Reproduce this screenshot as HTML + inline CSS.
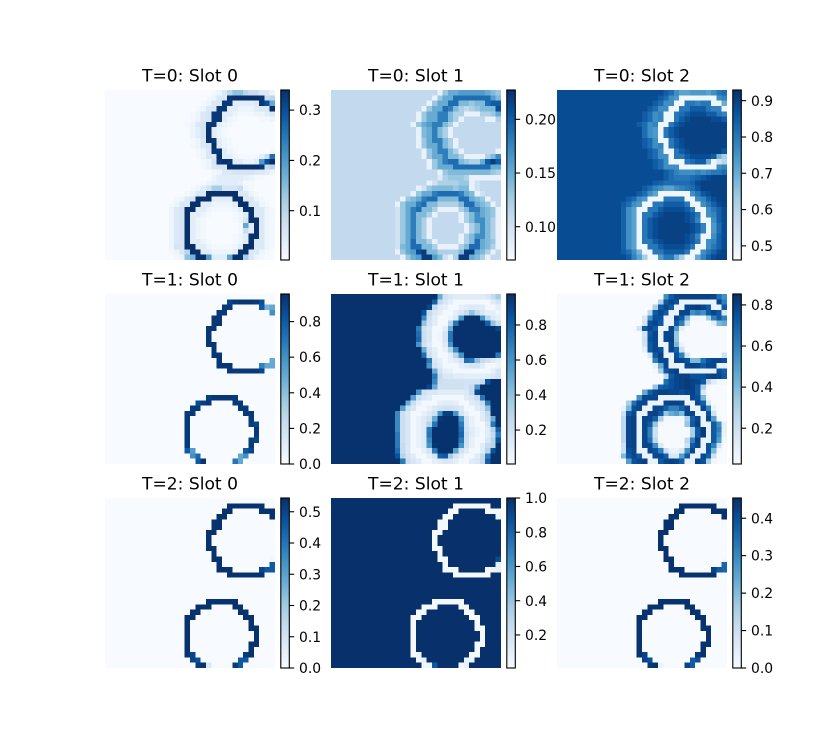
<!DOCTYPE html>
<html>
<head>
<meta charset="utf-8">
<title>Slot attention heatmaps</title>
<style>
html,body{margin:0;padding:0;background:#fff;}
svg{display:block;}
text{font-family:"DejaVu Sans","Liberation Sans",sans-serif;fill:#000;}
</style>
</head>
<body>
<svg id="figure" xmlns="http://www.w3.org/2000/svg" width="825" height="750" viewBox="0 0 825 750">
<rect x="0" y="0" width="825" height="750" fill="#fff"/>
</svg>
<script>
/* Values are in hundredths. Each row lists columns 12..31; columns 0..11 carry the panel background. */
const panelTitles = ["T=0: Slot 0","T=0: Slot 1","T=0: Slot 2","T=1: Slot 0","T=1: Slot 1","T=1: Slot 2","T=2: Slot 0","T=2: Slot 1","T=2: Slot 2"];
const panelBackgrounds = [0,11,88,0,97,2,0,100,0];
const rangeMin = [0.002,0.069,0.461,0,0.006,0.026,0,0.007,0];
const rangeMax = [0.34,0.2273,0.9295,0.955,0.977,0.853,0.544,1,0.454];
const ticksT0S0 = ["0.1","0.2","0.3"];
const ticksT0S1 = ["0.10","0.15","0.20"];
const ticksT0S2 = ["0.5","0.6","0.7","0.8","0.9"];
const ticksT1S0 = ["0.0","0.2","0.4","0.6","0.8"];
const ticksT1S1 = ["0.2","0.4","0.6","0.8"];
const ticksT1S2 = ["0.2","0.4","0.6","0.8"];
const ticksT2S0 = ["0.0","0.1","0.2","0.3","0.4","0.5"];
const ticksT2S1 = ["0.2","0.4","0.6","0.8","1.0"];
const ticksT2S2 = ["0.0","0.1","0.2","0.3","0.4"];

const t0s0 = [
[0,0,0,0,0,0,0,0,1,2,5,10,14,14,10,8,8,5,5,2],
[0,0,0,0,0,0,0,1,2,5,5,33,34,34,34,34,34,33,8,10],
[0,0,0,0,0,0,1,2,5,5,33,33,4,4,4,4,5,33,30,18],
[0,0,0,0,0,1,2,5,5,33,33,4,4,2,2,2,4,5,5,34],
[0,0,0,0,1,2,5,6,33,33,4,4,2,1,1,1,2,2,4,5],
[0,0,0,0,1,2,5,6,33,33,4,2,1,0,0,0,0,1,1,2],
[0,0,0,1,2,5,6,33,33,4,2,1,0,0,0,0,0,0,0,0],
[0,0,0,0,2,4,6,34,4,2,1,0,0,0,0,0,0,0,0,0],
[0,0,0,0,2,4,6,34,4,2,1,0,0,0,0,0,0,0,0,0],
[0,0,0,0,1,2,5,34,33,4,2,1,0,0,0,0,0,0,0,0],
[0,0,0,0,1,2,5,6,34,4,2,1,0,0,0,0,0,0,0,0],
[0,0,0,0,0,1,2,5,33,33,4,2,1,0,0,0,0,0,0,1],
[0,0,0,0,0,1,2,5,5,34,4,4,2,1,1,1,1,3,8,26],
[0,0,0,0,0,0,1,2,6,33,34,33,4,4,2,2,4,20,30,34],
[0,0,0,0,0,0,1,2,5,6,6,34,34,34,34,34,34,33,8,10],
[0,0,0,0,0,0,0,0,1,2,5,5,6,6,6,6,5,5,4,2],
[0,0,0,0,0,0,0,0,2,4,4,4,4,4,3,2,1,1,0,0],
[0,0,0,0,0,0,1,2,3,4,4,4,4,3,1,1,0,0,0,0],
[0,0,0,0,1,2,4,6,12,12,6,6,6,8,2,1,0,0,0,0],
[0,0,0,1,2,5,5,34,34,34,34,34,34,5,5,2,1,0,0,0],
[0,1,2,5,6,34,34,34,4,4,4,4,34,34,5,5,2,1,0,0],
[1,2,5,5,34,34,4,4,2,2,2,2,4,34,34,5,5,2,1,0],
[2,5,6,34,34,4,4,2,1,1,1,1,2,4,34,34,5,5,2,1],
[2,5,6,34,4,4,2,1,0,0,0,0,1,2,4,34,5,5,2,1],
[2,5,6,34,4,2,1,0,0,0,0,0,1,2,6,34,34,5,2,1],
[2,5,6,34,4,2,1,0,0,0,0,0,0,1,18,4,34,5,2,1],
[2,5,6,34,4,2,1,0,0,0,0,0,0,1,8,4,34,5,2,1],
[2,5,6,34,4,2,1,0,0,0,0,0,1,2,4,34,34,5,2,1],
[2,5,6,34,4,4,2,1,0,0,0,0,1,2,4,34,5,5,2,1],
[2,6,6,34,34,4,4,2,1,1,1,1,2,4,34,34,5,5,2,1],
[1,2,5,10,34,34,4,4,2,2,2,2,4,34,34,5,5,2,1,0],
[0,1,2,14,16,34,34,20,4,4,4,18,34,34,12,5,2,1,0,0]
];
const t0s1 = [
[11,11,11,11,11,11,11,11,8,13,15,15,16,16,16,16,16,15,14,13],
[11,11,11,11,11,11,11,8,13,15,15,19,19,19,19,19,19,19,16,14],
[11,11,11,11,11,11,8,13,15,15,19,19,14,14,13,14,14,19,20,20],
[11,11,11,11,11,8,13,15,15,19,18,14,12,11,12,13,14,14,14,21],
[11,11,11,11,8,13,15,15,18,18,14,12,12,8,8,8,12,12,13,15],
[11,11,11,11,8,13,15,15,18,18,14,12,8,11,11,11,11,8,8,12],
[11,11,11,8,13,15,16,18,18,14,12,8,11,11,11,11,11,11,11,11],
[11,11,11,11,8,14,15,18,14,12,8,11,11,11,11,11,11,11,11,11],
[11,11,11,11,8,14,15,18,14,12,8,11,11,11,11,11,11,11,11,11],
[11,11,11,11,8,13,15,18,18,14,12,8,11,11,11,11,11,11,11,11],
[11,11,11,11,8,13,15,15,18,14,12,8,11,11,11,11,11,11,11,11],
[11,11,11,11,11,8,13,15,18,18,14,12,8,11,11,11,11,11,11,8],
[11,11,11,11,11,8,13,15,15,18,14,14,12,8,8,8,8,12,14,17],
[11,11,11,11,11,11,8,13,15,18,19,19,14,13,12,12,15,20,22,20],
[11,11,11,11,11,11,8,13,15,15,15,19,19,19,19,19,19,19,15,15],
[11,11,11,11,11,11,11,11,8,13,14,14,14,14,14,14,14,14,13,12],
[11,11,11,11,11,11,11,11,9,12,13,13,13,12,8,8,8,8,8,8],
[11,11,11,11,11,11,8,10,12,12,12,12,13,13,8,10,11,11,11,11],
[11,11,11,11,8,10,13,14,14,14,14,13,14,14,8,10,11,11,11,11],
[11,11,11,8,13,15,15,18,19,19,19,19,18,15,14,8,10,11,11,11],
[11,8,13,14,15,18,19,19,14,14,14,14,19,19,15,14,13,8,11,11],
[8,13,15,15,18,19,14,14,12,12,12,12,14,19,19,15,14,13,8,11],
[10,13,15,18,19,14,14,12,8,8,8,8,12,14,18,18,15,14,13,8],
[10,13,15,18,14,14,12,8,11,11,11,11,8,12,14,17,15,14,13,8],
[10,13,15,18,14,12,8,11,11,11,11,11,8,12,14,17,17,14,12,8],
[10,13,15,18,14,12,8,11,11,11,11,11,11,8,12,14,17,14,12,8],
[10,13,15,18,14,12,8,11,11,11,11,11,11,8,12,14,17,14,12,8],
[10,13,15,18,14,12,8,11,11,11,11,11,8,12,14,17,17,14,12,8],
[10,13,15,19,14,14,12,8,11,11,11,11,8,12,14,19,15,14,13,8],
[10,14,15,19,19,14,14,12,8,8,8,8,12,14,19,19,15,14,12,8],
[8,13,15,16,21,22,14,14,12,12,12,12,14,22,22,15,14,12,8,11],
[11,8,13,15,16,22,22,16,14,10,8,12,22,22,15,14,12,8,11,11]
];
const t0s2 = [
[88,88,88,88,88,88,88,88,85,82,76,72,72,74,74,74,72,76,80,82],
[88,88,88,88,88,88,88,85,82,76,74,48,48,48,48,48,48,48,76,78],
[88,88,88,88,88,88,85,82,76,76,48,48,80,80,78,80,80,48,48,70],
[88,88,88,88,88,85,82,76,76,48,48,80,80,85,85,85,80,78,78,48],
[88,88,88,88,85,82,76,78,48,48,80,82,85,88,88,88,85,85,80,78],
[88,88,88,88,85,82,76,78,48,48,80,85,88,90,90,90,90,88,88,85],
[88,88,88,85,82,76,78,48,48,80,85,88,90,90,90,90,90,90,90,90],
[88,88,88,88,82,76,74,48,80,85,88,90,90,90,90,90,90,90,90,90],
[88,88,88,88,82,76,74,48,80,85,88,90,90,90,90,90,90,90,90,90],
[88,88,88,88,85,82,76,48,48,80,85,88,90,90,90,90,90,90,90,90],
[88,88,88,88,85,82,76,78,48,80,85,88,90,90,90,90,90,90,90,90],
[88,88,88,88,88,85,82,76,48,48,80,85,88,90,90,90,90,90,90,86],
[88,88,88,88,88,85,82,76,76,48,80,80,85,88,88,88,88,85,68,62],
[88,88,88,88,88,88,85,82,76,48,48,48,80,82,85,85,70,48,55,60],
[88,88,88,88,88,88,85,82,76,76,76,48,48,48,48,48,48,48,76,78],
[88,88,88,88,88,88,88,88,85,82,78,76,76,76,78,76,78,80,80,82],
[88,88,88,88,88,88,88,88,85,82,80,80,80,82,84,86,88,90,90,90],
[88,88,88,88,88,88,85,84,82,82,82,82,82,84,88,90,90,90,90,90],
[88,88,88,88,85,82,78,76,72,72,76,78,80,82,86,90,90,90,90,90],
[88,88,88,85,82,76,72,48,48,48,48,48,48,76,80,86,88,90,90,90],
[88,85,82,76,74,48,48,48,80,80,80,80,48,48,76,78,84,88,90,90],
[85,82,76,74,48,48,80,80,85,85,85,85,80,48,48,76,80,84,88,90],
[84,76,72,48,48,80,80,85,88,88,88,88,85,80,48,48,76,80,84,88],
[84,76,72,48,80,80,85,88,90,90,90,90,88,85,80,48,76,78,84,88],
[84,76,72,48,80,85,88,90,90,90,90,90,88,85,78,48,48,76,84,88],
[84,76,72,48,80,85,88,90,90,90,90,90,90,88,85,78,48,74,82,88],
[84,76,72,48,80,85,88,90,90,90,90,90,90,88,85,78,48,74,82,88],
[84,76,72,48,80,85,88,90,90,90,90,90,88,85,78,48,48,76,84,88],
[84,76,72,48,80,80,85,88,90,90,90,90,88,85,80,48,76,78,84,88],
[84,76,72,48,48,80,80,85,88,88,88,88,85,80,48,48,76,80,84,88],
[85,82,76,68,48,48,80,80,85,85,85,85,80,48,48,76,80,84,88,90],
[88,85,78,72,62,48,48,74,80,80,70,62,48,48,70,78,84,88,90,90]
];
const t1s0 = [
[0,0,0,0,0,0,0,0,0,0,0,0,0,0,0,0,0,0,0,0],
[0,0,0,0,0,0,0,0,0,0,0,88,92,93,93,93,92,85,0,0],
[0,0,0,0,0,0,0,0,0,0,92,92,0,0,0,0,0,80,45,50],
[0,0,0,0,0,0,0,0,0,92,92,0,0,0,0,0,0,0,0,60],
[0,0,0,0,0,0,0,0,93,93,0,0,0,0,0,0,0,0,0,0],
[0,0,0,0,0,0,0,0,93,93,0,0,0,0,0,0,0,0,0,0],
[0,0,0,0,0,0,0,93,93,0,0,0,0,0,0,0,0,0,0,0],
[0,0,0,0,0,0,0,93,0,0,0,0,0,0,0,0,0,0,0,0],
[0,0,0,0,0,0,0,93,0,0,0,0,0,0,0,0,0,0,0,0],
[0,0,0,0,0,0,0,93,93,0,0,0,0,0,0,0,0,0,0,0],
[0,0,0,0,0,0,0,0,93,0,0,0,0,0,0,0,0,0,0,0],
[0,0,0,0,0,0,0,0,93,93,0,0,0,0,0,0,0,0,0,0],
[0,0,0,0,0,0,0,0,0,93,0,0,0,0,0,0,0,0,0,50],
[0,0,0,0,0,0,0,0,0,93,93,93,0,0,0,0,0,65,50,50],
[0,0,0,0,0,0,0,0,0,0,0,92,92,92,92,92,92,88,0,0],
[0,0,0,0,0,0,0,0,0,0,0,0,0,0,0,0,0,0,0,0],
[0,0,0,0,0,0,0,0,0,0,0,0,0,0,0,0,0,0,0,0],
[0,0,0,0,0,0,0,0,0,0,0,0,0,0,0,0,0,0,0,0],
[0,0,0,0,0,0,0,0,0,0,0,0,0,0,0,0,0,0,0,0],
[0,0,0,0,0,0,0,90,93,93,93,93,92,0,0,0,0,0,0,0],
[0,0,0,0,0,85,90,93,0,0,0,0,92,92,0,0,0,0,0,0],
[0,0,0,0,92,92,0,0,0,0,0,0,0,92,92,0,0,0,0,0],
[0,0,0,92,92,0,0,0,0,0,0,0,0,0,92,92,0,0,0,0],
[0,0,0,92,0,0,0,0,0,0,0,0,0,0,0,92,0,0,0,0],
[0,0,0,92,0,0,0,0,0,0,0,0,0,0,0,90,88,0,0,0],
[0,0,0,92,0,0,0,0,0,0,0,0,0,0,0,0,92,0,0,0],
[0,0,0,92,0,0,0,0,0,0,0,0,0,0,0,0,92,0,0,0],
[0,0,0,92,0,0,0,0,0,0,0,0,0,0,0,90,88,0,0,0],
[0,0,0,92,0,0,0,0,0,0,0,0,0,0,0,92,0,0,0,0],
[0,0,0,80,55,0,0,0,0,0,0,0,0,0,80,88,0,0,0,0],
[0,0,0,0,60,75,0,0,0,0,0,0,0,50,60,0,0,0,0,0],
[0,0,0,0,0,80,94,0,0,0,0,0,70,50,0,0,0,0,0,0]
];
const t1s1 = [
[97,97,97,97,97,97,97,97,50,20,15,12,12,12,12,12,12,15,25,35],
[97,97,97,97,97,97,97,80,25,15,10,3,3,3,3,3,3,3,12,18],
[97,97,97,97,97,97,90,25,12,8,3,3,10,12,14,14,12,3,3,10],
[97,97,97,97,97,85,25,15,10,3,3,10,15,25,40,25,15,10,10,5],
[97,97,97,97,97,65,20,12,3,3,6,14,60,97,97,97,60,28,14,10],
[97,97,97,97,97,40,18,12,3,3,30,72,97,97,97,97,97,80,40,22],
[97,97,97,97,70,20,14,3,3,12,50,97,97,97,97,97,97,97,97,90],
[97,97,97,97,75,22,15,3,5,18,72,97,97,97,97,97,97,97,97,97],
[97,97,97,97,78,22,15,3,5,18,72,97,97,97,97,97,97,97,97,97],
[97,97,97,97,60,20,12,3,3,14,60,97,97,97,97,97,97,97,97,97],
[97,97,97,97,97,50,18,10,3,8,30,65,97,97,97,97,97,97,97,97],
[97,97,97,97,97,75,20,12,3,3,10,30,60,97,97,97,97,97,97,70],
[97,97,97,97,97,97,70,15,10,3,8,12,18,75,72,40,25,20,14,8],
[97,97,97,97,97,97,60,18,12,3,3,3,10,14,18,18,12,3,3,6],
[97,97,97,97,97,97,97,50,18,10,8,3,3,3,3,3,3,3,10,18],
[97,97,97,97,97,97,97,70,25,15,15,12,12,10,10,10,10,12,15,20],
[97,97,97,97,97,97,97,65,22,20,20,20,20,18,18,18,25,85,97,97],
[97,97,97,97,97,97,90,50,20,20,20,20,20,18,25,60,97,97,97,97],
[97,97,97,97,60,20,15,15,12,12,12,12,12,14,25,88,97,97,97,97],
[97,97,97,55,22,15,12,3,3,3,3,3,3,12,15,25,72,97,97,97],
[97,97,50,22,10,3,3,3,10,12,12,10,3,3,12,15,25,70,97,97],
[97,55,22,15,3,3,8,14,18,20,20,18,14,3,3,12,18,40,97,97],
[65,22,15,3,3,8,14,20,60,92,92,60,18,8,3,3,12,25,97,97],
[65,22,15,3,8,14,20,50,95,97,97,97,60,18,8,3,12,22,50,97],
[65,22,15,3,8,14,30,72,97,97,97,97,70,18,8,3,3,15,70,97],
[65,22,15,3,8,14,70,97,97,97,97,97,75,20,12,6,3,12,30,80],
[70,22,15,3,8,14,72,97,97,97,97,97,78,22,12,6,3,12,25,70],
[70,22,15,3,8,14,65,97,97,97,97,97,70,20,8,3,3,15,30,85],
[70,25,15,3,8,14,60,95,97,97,97,97,60,18,8,3,12,25,30,97],
[75,25,15,3,3,10,18,70,97,97,97,55,20,12,3,3,12,30,85,97],
[85,30,18,12,3,3,10,18,80,82,35,18,10,3,3,12,25,70,97,97],
[97,70,22,15,12,3,3,10,12,15,15,10,3,3,12,15,25,80,97,97]
];
const t1s2 = [
[2,2,2,2,2,2,2,2,55,72,78,80,80,80,80,80,80,78,65,55],
[2,2,2,2,2,2,2,30,72,78,75,8,8,8,8,8,8,8,78,60],
[2,2,2,2,2,2,30,72,78,72,8,8,78,80,82,78,72,8,8,72],
[2,2,2,2,2,25,72,78,72,8,8,78,78,55,60,55,72,78,72,15],
[2,2,2,2,15,55,75,75,8,8,78,72,40,5,5,5,30,60,72,60],
[2,2,2,2,18,75,78,72,8,8,72,60,20,3,3,3,3,10,40,45],
[2,2,2,18,72,78,72,8,8,78,50,10,3,3,3,3,3,3,3,3],
[2,2,2,2,18,72,78,8,78,78,35,3,3,3,3,3,3,3,3,3],
[2,2,2,2,20,75,78,8,78,80,35,3,3,3,3,3,3,3,3,3],
[2,2,2,2,18,72,78,8,8,78,40,8,3,3,3,3,3,3,3,3],
[2,2,2,2,10,72,78,75,8,78,70,20,3,3,3,3,3,3,3,3],
[2,2,2,2,2,15,72,80,8,8,75,60,15,3,3,3,3,3,3,20],
[2,2,2,2,2,5,60,78,78,8,78,78,75,40,40,65,75,78,78,75],
[2,2,2,2,2,2,10,45,78,8,8,8,78,80,78,72,78,78,8,10],
[2,2,2,2,2,2,5,30,72,78,80,8,8,8,8,8,8,8,75,70],
[2,2,2,2,2,2,2,2,25,72,78,80,80,75,75,75,78,80,78,72],
[2,2,2,2,2,2,2,2,65,75,78,80,82,80,78,72,25,12,6,5],
[2,2,2,2,2,2,35,70,72,75,78,80,82,80,72,30,3,2,2,2],
[2,2,2,2,45,70,78,80,80,78,78,75,78,80,72,15,2,2,2,2],
[2,2,2,55,78,78,78,8,8,8,8,8,8,78,75,40,5,2,2,2],
[2,30,65,78,78,8,8,8,78,80,80,78,8,8,78,70,15,2,2,2],
[8,40,75,78,8,8,78,78,70,60,60,70,78,8,8,78,60,8,2,2],
[20,72,78,8,8,78,80,72,35,45,50,40,78,78,8,8,75,20,2,2],
[25,78,80,8,78,78,70,30,5,5,5,5,30,70,78,8,78,50,5,2],
[25,78,80,8,78,72,35,5,3,3,3,3,35,72,80,8,8,72,55,10],
[25,78,80,8,78,60,20,3,3,3,3,3,3,30,72,82,8,72,60,10],
[25,78,80,8,78,60,20,3,3,3,3,3,3,30,72,82,8,72,55,8],
[25,78,80,8,78,65,25,3,3,3,3,3,25,60,80,8,8,72,50,5],
[20,78,80,8,78,78,55,15,3,3,3,3,20,72,78,8,75,60,20,2],
[20,75,78,8,8,78,75,60,20,8,8,15,55,78,8,8,75,40,5,2],
[40,72,78,72,8,8,78,78,70,15,15,50,72,8,8,78,70,20,2,2],
[2,50,75,78,80,8,8,72,78,80,78,70,8,8,78,75,30,5,2,2]
];
const t2s0 = [
[0,0,0,0,0,0,0,0,0,0,0,0,0,0,0,0,0,0,0,0],
[0,0,0,0,0,0,0,0,0,0,0,54,54,54,54,54,54,54,0,0],
[0,0,0,0,0,0,0,0,0,0,54,54,0,0,0,0,0,54,54,54],
[0,0,0,0,0,0,0,0,0,54,54,0,0,0,0,0,0,0,0,54],
[0,0,0,0,0,0,0,0,54,54,0,0,0,0,0,0,0,0,0,0],
[0,0,0,0,0,0,0,0,54,54,0,0,0,0,0,0,0,0,0,0],
[0,0,0,0,0,0,0,54,54,0,0,0,0,0,0,0,0,0,0,0],
[0,0,0,0,0,0,0,54,0,0,0,0,0,0,0,0,0,0,0,0],
[0,0,0,0,0,0,0,54,0,0,0,0,0,0,0,0,0,0,0,0],
[0,0,0,0,0,0,0,54,54,0,0,0,0,0,0,0,0,0,0,0],
[0,0,0,0,0,0,0,0,54,0,0,0,0,0,0,0,0,0,0,0],
[0,0,0,0,0,0,0,0,54,54,0,0,0,0,0,0,0,0,0,2],
[0,0,0,0,0,0,0,0,0,54,0,0,0,0,0,0,0,0,0,46],
[0,0,0,0,0,0,0,0,0,54,54,54,0,0,0,0,0,50,46,46],
[0,0,0,0,0,0,0,0,0,0,0,54,54,54,54,54,54,54,0,0],
[0,0,0,0,0,0,0,0,0,0,0,0,0,0,0,0,0,0,0,0],
[0,0,0,0,0,0,0,0,0,0,0,0,0,0,0,0,0,0,0,0],
[0,0,0,0,0,0,0,0,0,0,0,0,0,0,0,0,0,0,0,0],
[0,0,0,0,0,0,0,0,0,0,0,0,0,0,0,0,0,0,0,0],
[0,0,0,0,0,0,0,54,54,54,54,54,54,0,0,0,0,0,0,0],
[0,0,0,0,0,54,54,54,0,0,0,0,54,54,0,0,0,0,0,0],
[0,0,0,0,54,54,0,0,0,0,0,0,0,54,54,0,0,0,0,0],
[0,0,0,54,54,0,0,0,0,0,0,0,0,0,54,54,0,0,0,0],
[0,0,0,54,0,0,0,0,0,0,0,0,0,0,0,54,0,0,0,0],
[0,0,0,54,0,0,0,0,0,0,0,0,0,0,0,54,54,0,0,0],
[0,0,0,54,0,0,0,0,0,0,0,0,0,0,0,0,54,0,0,0],
[0,0,0,54,0,0,0,0,0,0,0,0,0,0,0,0,54,0,0,0],
[0,0,0,54,0,0,0,0,0,0,0,0,0,0,0,54,54,0,0,0],
[0,0,0,54,0,0,0,0,0,0,0,0,0,0,0,54,0,0,0,0],
[0,0,0,54,50,0,0,0,0,0,0,0,0,0,52,54,0,0,0,0],
[0,0,0,0,50,48,0,0,0,0,0,0,0,46,46,0,0,0,0,0],
[0,0,0,0,0,52,54,8,0,0,0,0,52,46,0,0,0,0,0,0]
];
const t2s1 = [
[100,100,100,100,100,100,100,100,100,100,100,100,100,100,100,100,100,100,100,100],
[100,100,100,100,100,100,100,100,100,100,100,2,2,2,2,2,2,2,100,100],
[100,100,100,100,100,100,100,100,100,100,2,2,100,100,100,100,100,2,2,2],
[100,100,100,100,100,100,100,100,100,2,2,100,100,100,100,100,100,100,100,6],
[100,100,100,100,100,100,100,100,2,2,100,100,100,100,100,100,100,100,100,100],
[100,100,100,100,100,100,100,100,2,2,100,100,100,100,100,100,100,100,100,100],
[100,100,100,100,100,100,100,2,2,100,100,100,100,100,100,100,100,100,100,100],
[100,100,100,100,100,100,100,2,100,100,100,100,100,100,100,100,100,100,100,100],
[100,100,100,100,100,100,100,2,100,100,100,100,100,100,100,100,100,100,100,100],
[100,100,100,100,100,100,100,2,2,100,100,100,100,100,100,100,100,100,100,100],
[100,100,100,100,100,100,100,100,2,100,100,100,100,100,100,100,100,100,100,100],
[100,100,100,100,100,100,100,100,2,2,100,100,100,100,100,100,100,100,100,90],
[100,100,100,100,100,100,100,100,100,2,100,100,100,100,100,100,100,100,100,10],
[100,100,100,100,100,100,100,100,100,2,2,2,100,100,100,100,100,4,8,10],
[100,100,100,100,100,100,100,100,100,100,100,2,2,2,2,2,2,2,100,100],
[100,100,100,100,100,100,100,100,100,100,100,100,100,100,100,100,100,100,100,100],
[100,100,100,100,100,100,100,100,100,100,100,100,100,100,100,100,100,100,100,100],
[100,100,100,100,100,100,100,100,100,100,100,100,100,100,100,100,100,100,100,100],
[100,100,100,100,100,100,100,100,100,100,100,100,100,100,100,100,100,100,100,100],
[100,100,100,100,100,100,100,2,2,2,2,2,2,100,100,100,100,100,100,100],
[100,100,100,100,100,2,2,2,100,100,100,100,2,2,100,100,100,100,100,100],
[100,100,100,100,2,2,100,100,100,100,100,100,100,2,2,100,100,100,100,100],
[100,100,100,2,2,100,100,100,100,100,100,100,100,100,2,2,100,100,100,100],
[100,100,100,2,100,100,100,100,100,100,100,100,100,100,100,2,100,100,100,100],
[100,100,100,2,100,100,100,100,100,100,100,100,100,100,100,2,2,100,100,100],
[100,100,100,2,100,100,100,100,100,100,100,100,100,100,100,100,2,100,100,100],
[100,100,100,2,100,100,100,100,100,100,100,100,100,100,100,100,2,100,100,100],
[100,100,100,2,100,100,100,100,100,100,100,100,100,100,100,2,2,100,100,100],
[100,100,100,2,100,100,100,100,100,100,100,100,100,100,100,2,100,100,100,100],
[100,100,100,2,5,100,100,100,100,100,100,100,100,100,4,2,100,100,100,100],
[100,100,100,100,5,8,100,100,100,100,100,100,100,8,6,100,100,100,100,100],
[100,100,100,100,100,4,6,85,100,100,100,100,3,8,100,100,100,100,100,100]
];
const t2s2 = [
[0,0,0,0,0,0,0,0,0,0,0,0,0,0,0,0,0,0,0,0],
[0,0,0,0,0,0,0,0,0,0,0,45,45,45,45,45,45,45,0,0],
[0,0,0,0,0,0,0,0,0,0,45,45,0,0,0,0,0,45,45,45],
[0,0,0,0,0,0,0,0,0,45,45,0,0,0,0,0,0,0,0,45],
[0,0,0,0,0,0,0,0,45,45,0,0,0,0,0,0,0,0,0,0],
[0,0,0,0,0,0,0,0,45,45,0,0,0,0,0,0,0,0,0,0],
[0,0,0,0,0,0,0,45,45,0,0,0,0,0,0,0,0,0,0,0],
[0,0,0,0,0,0,0,45,0,0,0,0,0,0,0,0,0,0,0,0],
[0,0,0,0,0,0,0,45,0,0,0,0,0,0,0,0,0,0,0,0],
[0,0,0,0,0,0,0,45,45,0,0,0,0,0,0,0,0,0,0,0],
[0,0,0,0,0,0,0,0,45,0,0,0,0,0,0,0,0,0,0,0],
[0,0,0,0,0,0,0,0,45,45,0,0,0,0,0,0,0,0,0,1],
[0,0,0,0,0,0,0,0,0,45,0,0,0,0,0,0,0,0,0,36],
[0,0,0,0,0,0,0,0,0,45,45,45,0,0,0,0,0,42,38,36],
[0,0,0,0,0,0,0,0,0,0,0,45,45,45,45,45,45,45,0,0],
[0,0,0,0,0,0,0,0,0,0,0,0,0,0,0,0,0,0,0,0],
[0,0,0,0,0,0,0,0,0,0,0,0,0,0,0,0,0,0,0,0],
[0,0,0,0,0,0,0,0,0,0,0,0,0,0,0,0,0,0,0,0],
[0,0,0,0,0,0,0,0,0,0,0,0,0,0,0,0,0,0,0,0],
[0,0,0,0,0,0,0,45,45,45,45,45,45,0,0,0,0,0,0,0],
[0,0,0,0,0,45,45,45,0,0,0,0,45,45,0,0,0,0,0,0],
[0,0,0,0,45,45,0,0,0,0,0,0,0,45,45,0,0,0,0,0],
[0,0,0,45,45,0,0,0,0,0,0,0,0,0,45,45,0,0,0,0],
[0,0,0,45,0,0,0,0,0,0,0,0,0,0,0,45,0,0,0,0],
[0,0,0,45,0,0,0,0,0,0,0,0,0,0,0,45,45,0,0,0],
[0,0,0,45,0,0,0,0,0,0,0,0,0,0,0,0,45,0,0,0],
[0,0,0,45,0,0,0,0,0,0,0,0,0,0,0,0,45,0,0,0],
[0,0,0,45,0,0,0,0,0,0,0,0,0,0,0,45,45,0,0,0],
[0,0,0,45,0,0,0,0,0,0,0,0,0,0,0,45,0,0,0,0],
[0,0,0,45,42,0,0,0,0,0,0,0,0,0,44,45,0,0,0,0],
[0,0,0,0,42,40,0,0,0,0,0,0,0,38,40,0,0,0,0,0],
[0,0,0,0,0,44,45,3,0,0,0,0,42,38,0,0,0,0,0,0]
];

const blues = ["#f7fbff","#deebf7","#c6dbef","#9ecae1","#6baed6","#4292c6","#2171b5","#08519c","#08306b"];

const svgNS = "http://www.w3.org/2000/svg";
const figure = document.getElementById("figure");
const panelRows = [t0s0,t0s1,t0s2,t1s0,t1s1,t1s2,t2s0,t2s1,t2s2];
const panelTicks = [ticksT0S0,ticksT0S1,ticksT0S2,ticksT1S0,ticksT1S1,ticksT1S2,ticksT2S0,ticksT2S1,ticksT2S2];
const firstColumn = 12, gridSize = 32, valueScale = 0.01;
const axesLeft = [105,331,557], axesTop = [90,294,498], axesSize = 170;
const barOffset = 175.8, barWidth = 8.5, strokePx = 1.11, tickPx = 4.86;

function hexToRgb(hex){
  return [parseInt(hex.slice(1,3),16),parseInt(hex.slice(3,5),16),parseInt(hex.slice(5,7),16)];
}
function colorAt(t){
  const clamped = Math.max(0,Math.min(1,t));
  const pos = clamped*(blues.length-1);
  const low = Math.min(Math.floor(pos),blues.length-2);
  const frac = pos-low;
  const a = hexToRgb(blues[low]), b = hexToRgb(blues[low+1]);
  return "rgb("+a.map(function(c,i){return Math.round(c+(b[i]-c)*frac);}).join(",")+")";
}
function make(tag,attrs,parent){
  const el = document.createElementNS(svgNS,tag);
  for(const k in attrs){el.setAttribute(k,attrs[k]);}
  parent.appendChild(el);
  return el;
}

const defs = make("defs",{},figure);
const gradient = make("linearGradient",{id:"blues-ramp",x1:"0",y1:"1",x2:"0",y2:"0"},defs);
blues.forEach(function(c,i){
  make("stop",{offset:String(i/(blues.length-1)),"stop-color":c},gradient);
});

panelTitles.forEach(function(title,p){
  const left = axesLeft[p%3], top = axesTop[Math.floor(p/3)];
  const vmin = rangeMin[p], vmax = rangeMax[p];
  const rows = panelRows[p];
  const xScale = function(col){return left+col*axesSize/gridSize;};
  const yScale = function(row){return top+row*axesSize/gridSize;};
  const normalize = function(v){return (v-vmin)/(vmax-vmin);};
  const barY = function(v){return top+axesSize-normalize(v)*axesSize;};

  const group = make("g",{},figure);
  
  

  const titleEl = make("text",{x:left+axesSize/2,y:top-8.3,"text-anchor":"middle","font-size":"17.1"},group);
  titleEl.textContent = title;
  
  

  for(let r=0;r<gridSize;r++){
    for(let c=0;c<gridSize;c++){
      let raw = panelBackgrounds[p];
      if(c>=firstColumn && rows[r] && rows[r][c-firstColumn]!==undefined){raw = rows[r][c-firstColumn];}
      const cell = make("rect",{x:xScale(c),y:yScale(r),width:axesSize/gridSize+0.05,height:axesSize/gridSize+0.05,fill:colorAt(normalize(raw*valueScale)),"shape-rendering":"crispEdges"},group);
      
      
    }
  }

  const barLeft = left+barOffset;
  const bar = make("rect",{x:barLeft,y:top,width:barWidth,height:axesSize,fill:"url(#blues-ramp)",stroke:"#000","stroke-width":strokePx},group);
  
  

  panelTicks[p].forEach(function(label){
    const value = parseFloat(label);
    const y = barY(value);
    const tick = make("line",{x1:barLeft+barWidth,x2:barLeft+barWidth+tickPx,y1:y,y2:y,stroke:"#000","stroke-width":strokePx},group);
    
    
    const text = make("text",{x:barLeft+barWidth+tickPx+tickPx,y:y+5.05,"font-size":"13.89"},group);
    text.textContent = label;
    
    
  });
});
</script>
</body>
</html>
